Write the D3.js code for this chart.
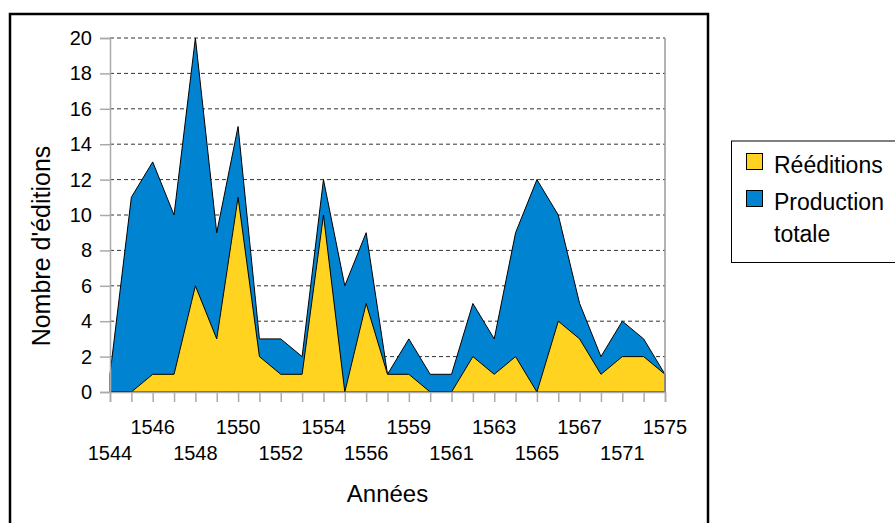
<!DOCTYPE html>
<html>
<head>
<meta charset="utf-8">
<script src="https://cdn.jsdelivr.net/npm/d3@7"></script>
<style>
  body { margin: 0; background: #fff; }
  text { font-family: "Liberation Sans", Arial, sans-serif; fill: #000; }
</style>
</head>
<body>
<div id="chart"></div>
<script>
const chartWidth = 895;
const chartHeight = 523;

const margin = {
  top: 38,
  bottom: 131,
  left: 110,
  right: 230
};

// categories (years) - only every other one gets a label on the axis
var years = [1544, 1545, 1546, 1547, 1548, 1549, 1550, 1551, 1552, 1553,
             1554, 1555, 1556, 1557, 1559, 1560, 1561, 1562, 1563, 1564,
             1565, 1566, 1567, 1569, 1571, 1573, 1575];

var productionTotale = [1, 11, 13, 10, 20, 9, 15, 3, 3, 2,
                        12, 6, 9, 1, 3, 1, 1, 5, 3, 9,
                        12, 10, 5, 2, 4, 3, 1];

var reeditions = [0, 0, 1, 1, 6, 3, 11, 2, 1, 1,
                  10, 0, 5, 1, 1, 0, 0, 2, 1, 2,
                  0, 4, 3, 1, 2, 2, 1];

var yTicks = [0, 2, 4, 6, 8, 10, 12, 14, 16, 18, 20];

var blue = "#0084d1";
var yellow = "#ffd320";

var svg = d3.select("#chart")
            .append("svg")
            .attr("width", chartWidth)
            .attr("height", chartHeight);

// outer frame, runs off the bottom of the picture
svg.append("rect")
  .attr("x", 10)
  .attr("y", 14)
  .attr("width", 698)
  .attr("height", 530)
  .attr("fill", "none")
  .attr("stroke", "#000")
  .attr("stroke-width", 2.5);

var xScale = d3.scalePoint()
              .domain(years)
              .range([margin.left, chartWidth - margin.right]);

var yScale = d3.scaleLinear()
              .domain([0, 20])
              .range([chartHeight - margin.bottom, margin.top]);

var x0 = margin.left, x1 = chartWidth - margin.right;

// grid
svg.append("g")
  .selectAll("line")
  .data(yTicks.filter(d => d > 0))
  .enter().append("line")
  .attr("x1", x0)
  .attr("x2", x1)
  .attr("y1", d => yScale(d))
  .attr("y2", d => yScale(d))
  .attr("stroke", "#333")
  .attr("stroke-width", 1)
  .attr("stroke-dasharray", "4,3");

// areas: total behind, reeditions in front (not stacked)
var area = function(values) {
  return d3.area()
    .x((d, i) => xScale(years[i]))
    .y0(yScale(0))
    .y1(d => yScale(d))(values);
};

svg.append("path")
  .attr("d", area(productionTotale))
  .attr("fill", blue)
  .attr("stroke", "#000")
  .attr("stroke-width", 1);

svg.append("path")
  .attr("d", area(reeditions))
  .attr("fill", yellow)
  .attr("stroke", "#000")
  .attr("stroke-width", 1);

// plot border right side
svg.append("line")
  .attr("x1", x1).attr("x2", x1)
  .attr("y1", yScale(20)).attr("y2", yScale(0))
  .attr("stroke", "#999")
  .attr("stroke-width", 1.5);

// y axis
var yAxis = d3.axisLeft(yScale)
              .tickValues(yTicks)
              .tickSize(10)
              .tickPadding(8);

var gy = svg.append("g")
  .attr("transform", "translate(" + x0 + ",0)")
  .call(yAxis);
gy.select(".domain").attr("stroke", "#aaa").attr("stroke-width", 1.5);
gy.selectAll(".tick line").attr("stroke", "#aaa").attr("stroke-width", 1.5);
gy.selectAll("text")
  .style("font-size", "20px")
  .attr("fill", "#000");

// x axis - ticks on every category, labels on every other, staggered in two rows
var xAxis = d3.axisBottom(xScale)
              .tickSize(10)
              .tickFormat("");

var gx = svg.append("g")
  .attr("transform", "translate(0," + yScale(0) + ")")
  .call(xAxis);
gx.select(".domain").attr("stroke", "#aaa").attr("stroke-width", 1.5);
gx.selectAll(".tick line").attr("stroke", "#aaa").attr("stroke-width", 1.5);

svg.append("g")
  .selectAll("text")
  .data(years.filter((d, i) => i % 2 == 0))
  .enter().append("text")
  .attr("x", d => xScale(d))
  .attr("y", (d, i) => yScale(0) + (i % 2 == 1 ? 42 : 68))
  .attr("text-anchor", "middle")
  .style("font-size", "20px")
  .text(d => d);

// axis titles
svg.append("text")
  .attr("transform", "translate(50,246) rotate(-90)")
  .attr("text-anchor", "middle")
  .style("font-size", "25px")
  .text("Nombre d'éditions");

svg.append("text")
  .attr("x", (x0 + x1) / 2)
  .attr("y", 502)
  .attr("text-anchor", "middle")
  .style("font-size", "24px")
  .text("Années");

// legend
var legend = svg.append("g");
legend.append("rect")
  .attr("x", 731.5)
  .attr("y", 141)
  .attr("width", 170)
  .attr("height", 121.5)
  .attr("fill", "#fff")
  .attr("stroke", "#000")
  .attr("stroke-width", 1);

var legendItems = [
  { color: yellow, lines: ["Rééditions"], y: 153 },
  { color: blue, lines: ["Production", "totale"], y: 190 }
];

legendItems.forEach(function(item) {
  legend.append("rect")
    .attr("x", 746.5)
    .attr("y", item.y + 0.5)
    .attr("width", 16)
    .attr("height", 16)
    .attr("fill", item.color)
    .attr("stroke", "#000")
    .attr("stroke-width", 1);
  item.lines.forEach(function(line, j) {
    legend.append("text")
      .attr("x", 774)
      .attr("y", item.y + 20 + j * 32)
      .style("font-size", "23px")
      .text(line);
  });
});
</script>
</body>
</html>
